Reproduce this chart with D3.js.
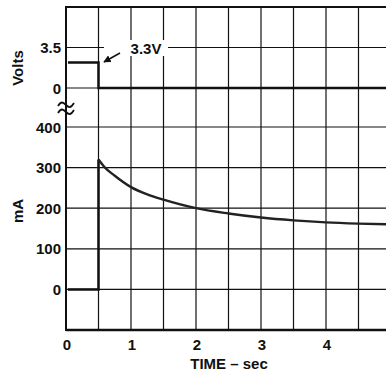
<!DOCTYPE html>
<html>
<head>
<meta charset="utf-8">
<script src="https://cdn.jsdelivr.net/npm/d3@7"></script>
<style>
  body { margin: 0; background: #fff; }
  text { font-family: "Liberation Sans", Arial, sans-serif; font-weight: bold; fill: #111; }
</style>
</head>
<body>
<div id="chart"></div>
<script>
// 时间刻度 (sec)
const timeTicks = [0, 1, 2, 3, 4, 5];
const voltTicks = [0, 3.5];
const mATicks = [0, 100, 200, 300, 400];

// 电压曲线
const voltTime = [0.03, 0.5, 0.5, 5];
const voltValue = [2.2, 2.2, 0, 0];

// 电流曲线
const ampTime = [0.03, 0.5, 0.5, 0.6, 0.75, 1, 1.25, 1.5, 2, 2.5, 3, 3.5, 4, 4.5, 5];
const ampValue = [0, 0, 320, 300, 280, 252, 234, 221, 200, 187, 177, 170, 165, 162, 160];

const width = 386, height = 376;

const svg = d3.select('#chart')
  .append('svg')
  .attr('width', width)
  .attr('height', height);

const x = d3.scaleLinear().domain([0, 5]).range([66, 391]);
const yV = d3.scaleLinear().domain([0, 7]).range([88, 7]);
const yA = d3.scaleLinear().domain([-100, 400]).range([330, 127]);

// 网格
const grid = svg.append('g').attr('stroke', '#111').attr('stroke-width', 1.2);
d3.range(0.5, 5.01, 0.5).forEach(t => {
  grid.append('line')
    .attr('x1', x(t)).attr('x2', x(t))
    .attr('y1', yV(7)).attr('y2', yA(-100));
});
[3.5, 0].forEach(v => {
  grid.append('line')
    .attr('x1', x(0)).attr('x2', width)
    .attr('y1', yV(v)).attr('y2', yV(v));
});
[400, 300, 200, 100, 0].forEach(v => {
  grid.append('line')
    .attr('x1', x(0)).attr('x2', width)
    .attr('y1', yA(v)).attr('y2', yA(v));
});

// 外框
svg.append('line')
  .attr('x1', x(0)).attr('x2', width)
  .attr('y1', yV(7)).attr('y2', yV(7))
  .style('stroke', '#111').style('stroke-width', 2);
svg.append('line')
  .attr('x1', x(0)).attr('x2', width)
  .attr('y1', yA(-100)).attr('y2', yA(-100))
  .style('stroke', '#111').style('stroke-width', 2.5);
svg.append('line')
  .attr('x1', x(0)).attr('x2', x(0))
  .attr('y1', yV(7) - 1).attr('y2', yA(-100) + 1)
  .style('stroke', '#111').style('stroke-width', 2);

// 断轴符号
[105, 112].forEach(cy => {
  svg.append('path')
    .attr('d', `M58,${cy + 1} C61,${cy - 4} 63,${cy - 3} 66,${cy} S71,${cy + 3} 74,${cy - 2}`)
    .style('fill', 'none').style('stroke', '#111').style('stroke-width', 1.8);
});

// 电压线
const voltData = voltTime.map((t, i) => [t, voltValue[i]]);
svg.append('path')
  .datum(voltData)
  .attr('d', d3.line().x(d => x(d[0])).y(d => yV(d[1])))
  .style('fill', 'none').style('stroke', '#111').style('stroke-width', 2.5);

// 电流线
const ampData = ampTime.map((t, i) => [t, ampValue[i]]);
svg.append('path')
  .datum(ampData.slice(0, 3))
  .attr('d', d3.line().x(d => x(d[0])).y(d => yA(d[1])))
  .style('fill', 'none').style('stroke', '#111').style('stroke-width', 2.5);
svg.append('path')
  .datum(ampData.slice(2))
  .attr('d', d3.line().curve(d3.curveMonotoneX).x(d => x(d[0])).y(d => yA(d[1])))
  .style('fill', 'none').style('stroke', '#222').style('stroke-width', 2.4);

// 3.3V 标注
svg.append('rect')
  .attr('x', 104).attr('y', 40).attr('width', 64).attr('height', 16)
  .style('fill', '#fff');
svg.append('text')
  .attr('x', 146).attr('y', 53.5)
  .attr('text-anchor', 'middle')
  .style('font-size', '15px')
  .text('3.3V');
svg.append('defs').append('marker')
  .attr('id', 'arrow')
  .attr('viewBox', '0 0 10 10')
  .attr('refX', 9).attr('refY', 5)
  .attr('markerWidth', 5).attr('markerHeight', 5)
  .attr('orient', 'auto')
  .append('path')
  .attr('d', 'M0,0 L10,5 L0,10 z')
  .style('fill', '#111');
svg.append('line')
  .attr('x1', 120).attr('y1', 53)
  .attr('x2', 104).attr('y2', 62)
  .attr('marker-end', 'url(#arrow)')
  .style('stroke', '#111').style('stroke-width', 1.5);

// 刻度标签
svg.selectAll('.vt').data(voltTicks).join('text')
  .attr('x', 61).attr('y', d => yV(d) + 5.5)
  .attr('text-anchor', 'end')
  .style('font-size', '15px')
  .text(d => d);
svg.selectAll('.at').data(mATicks).join('text')
  .attr('x', 61).attr('y', d => yA(d) + 5.5)
  .attr('text-anchor', 'end')
  .style('font-size', '15px')
  .text(d => d);
svg.selectAll('.tt').data(timeTicks).join('text')
  .attr('x', d => x(d) + 1).attr('y', 350)
  .attr('text-anchor', 'middle')
  .style('font-size', '15px')
  .text(d => d);

// 轴标题
svg.append('text')
  .attr('x', 229).attr('y', 369)
  .attr('text-anchor', 'middle')
  .style('font-size', '15px')
  .text('TIME – sec');
svg.append('text')
  .attr('transform', 'translate(23,68) rotate(-90)')
  .attr('text-anchor', 'middle')
  .style('font-size', '15px')
  .text('Volts');
svg.append('text')
  .attr('transform', 'translate(23,211) rotate(-90)')
  .attr('text-anchor', 'middle')
  .style('font-size', '15px')
  .text('mA');
</script>
</body>
</html>
